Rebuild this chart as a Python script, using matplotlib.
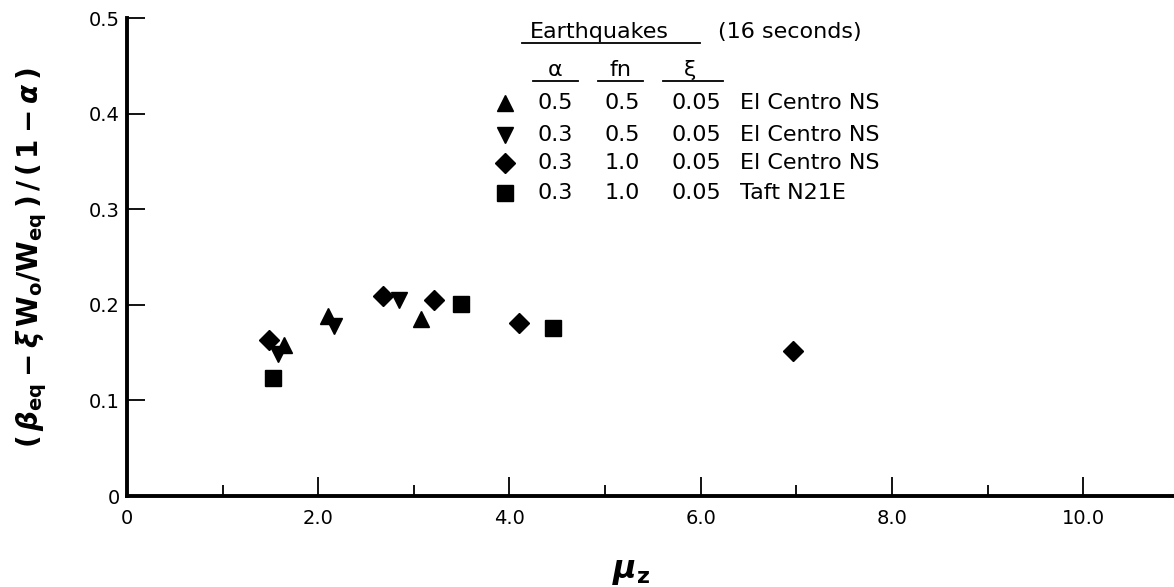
import matplotlib
matplotlib.use('Agg')
import matplotlib.pyplot as plt
from matplotlib.ticker import MultipleLocator

# Points (mu_z, normalised damping)
tri_up_x = [1.64, 2.10, 3.07]
tri_up_y = [0.158, 0.188, 0.185]
tri_dn_x = [1.58, 2.16, 2.84]
tri_dn_y = [0.149, 0.178, 0.205]
diam_x = [1.49, 2.68, 3.21, 4.10, 6.96]
diam_y = [0.163, 0.209, 0.205, 0.181, 0.152]
sq_x = [1.53, 3.49, 4.46]
sq_y = [0.123, 0.201, 0.176]

# Legend table
markers = ['^', 'v', 'D', 's']
alpha_col = ['0.5', '0.3', '0.3', '0.3']
fn_col = ['0.5', '0.5', '1.0', '1.0']
xi_col = ['0.05', '0.05', '0.05', '0.05']
record_col = ['El Centro NS', 'El Centro NS', 'El Centro NS', 'Taft N21E']

x_ticks = [0, 2, 4, 6, 8, 10]
x_ticklabels = ['0', '2.0', '4.0', '6.0', '8.0', '10.0']
y_ticks = [0, 0.1, 0.2, 0.3, 0.4, 0.5]
y_ticklabels = ['0', '0.1', '0.2', '0.3', '0.4', '0.5']

plt.rcParams['font.family'] = 'DejaVu Sans'
# bold mathtext for the axis labels
plt.rcParams['mathtext.fontset'] = 'custom'
plt.rcParams['mathtext.rm'] = 'DejaVu Sans:bold'
plt.rcParams['mathtext.it'] = 'DejaVu Sans:bold:italic'
plt.rcParams['mathtext.bf'] = 'DejaVu Sans:bold'

fig = plt.figure(figsize=(11.74, 5.87), dpi=100)
ax = fig.add_axes([0.1082, 0.155, 0.8918, 0.8143])

ms = dict(color='black', linestyle='none')
ax.plot(tri_up_x, tri_up_y, marker='^', markersize=12, **ms)
ax.plot(tri_dn_x, tri_dn_y, marker='v', markersize=12, **ms)
ax.plot(diam_x, diam_y, marker='D', markersize=10.5, **ms)
ax.plot(sq_x, sq_y, marker='s', markersize=11, **ms)

ax.set_xlim(0, 10.95)
ax.set_ylim(0, 0.5)
ax.spines['top'].set_visible(False)
ax.spines['right'].set_visible(False)
ax.spines['left'].set_linewidth(2.8)
ax.spines['bottom'].set_linewidth(2.8)

ax.set_xticks(x_ticks)
ax.set_xticklabels(x_ticklabels)
ax.xaxis.set_minor_locator(MultipleLocator(1))
ax.set_yticks(y_ticks)
ax.set_yticklabels(y_ticklabels)
ax.tick_params(axis='x', which='major', direction='in', length=14, width=1.3,
               labelsize=14, pad=9)
ax.tick_params(axis='x', which='minor', direction='in', length=8, width=1.3)
ax.tick_params(axis='y', which='major', direction='in', length=13, width=1.3,
               labelsize=14, pad=5)

# axis labels
fig.text(0.0273, 0.56,
         r'$(\,\beta_{\mathrm{eq}} - \xi\,\mathrm{W_o/W_{eq}}\,)\,/\,(\,\mathrm{1} - \alpha\,)$',
         rotation=90, ha='center', va='center', fontsize=20)
fig.text(0.538, 0.0256, r'$\mu_{\mathrm{z}}$', ha='center', va='center', fontsize=23)

# legend table drawn in axes fraction
tr = ax.transAxes
fs = 16
ax.text(0.385, 0.971, 'Earthquakes', transform=tr, fontsize=fs, ha='left', va='center')
ax.text(0.564, 0.971, '(16 seconds)', transform=tr, fontsize=fs, ha='left', va='center')
ax.plot([0.377, 0.547], [0.948, 0.948], transform=tr, color='black', lw=1.3, clip_on=False)

heads = ['α', 'fn', 'ξ']
head_x = [0.409, 0.471, 0.538]
under = [(0.388, 0.431), (0.450, 0.493), (0.512, 0.569)]
for h, hx, (u0, u1) in zip(heads, head_x, under):
    ax.text(hx, 0.891, h, transform=tr, fontsize=fs, ha='center', va='center')
    ax.plot([u0, u1], [0.868, 0.868], transform=tr, color='black', lw=1.3, clip_on=False)

row_y = [0.822, 0.755, 0.697, 0.634]
msizes = [12, 12, 10.5, 11]
for i in range(4):
    y = row_y[i]
    ax.plot([0.361], [y], transform=tr, marker=markers[i], markersize=msizes[i],
            color='black', linestyle='none', clip_on=False)
    ax.text(0.409, y, alpha_col[i], transform=tr, fontsize=fs, ha='center', va='center')
    ax.text(0.473, y, fn_col[i], transform=tr, fontsize=fs, ha='center', va='center')
    ax.text(0.544, y, xi_col[i], transform=tr, fontsize=fs, ha='center', va='center')
    ax.text(0.585, y, record_col[i], transform=tr, fontsize=fs, ha='left', va='center')

fig.savefig('out.png', dpi=100)
